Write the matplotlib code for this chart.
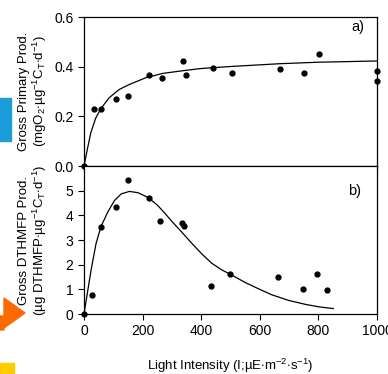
import numpy as np
import matplotlib
matplotlib.use("Agg")
import matplotlib.pyplot as plt
from matplotlib.patches import Rectangle, Polygon

plt.rcParams['font.family'] = ['Liberation Sans', 'DejaVu Sans']
plt.rcParams['mathtext.fontset'] = 'custom'
plt.rcParams['mathtext.rm'] = 'Liberation Sans'
plt.rcParams['mathtext.it'] = 'Liberation Sans'

# panel a) gross primary production
gpp_light = [0, 34, 59, 109, 149, 222, 265, 338, 347, 440, 504, 670, 752, 803, 1000, 1000]
gpp_vals = [0.0, 0.23, 0.23, 0.27, 0.28, 0.365, 0.356, 0.424, 0.365, 0.395, 0.375, 0.392, 0.373, 0.451, 0.381, 0.342]
gpp_fit_x = [0, 11, 23, 40, 57, 86, 120, 154, 212, 269, 326, 394, 440, 504, 669, 800, 1000]
gpp_fit_y = [0.0, 0.065, 0.133, 0.193, 0.23, 0.275, 0.308, 0.328, 0.356, 0.373, 0.382, 0.392, 0.396, 0.401, 0.412, 0.418, 0.423]

# panel b) gross DTHMFP production
dth_light = [0, 29, 58, 110, 150, 222, 261, 336, 343, 433, 498, 663, 748, 797, 830]
dth_vals = [0.0, 0.79, 3.53, 4.33, 5.44, 4.7, 3.79, 3.68, 3.56, 1.13, 1.64, 1.5, 1.0, 1.62, 0.97]
dth_fit_x = [0, 24, 41, 58, 81, 104, 127, 155, 184, 218, 250, 275, 298, 333, 367, 401, 436,
             470, 498, 550, 596, 641, 699, 756, 802, 851]
dth_fit_y = [0.0, 1.77, 2.85, 3.55, 4.13, 4.6, 4.87, 4.97, 4.92, 4.73, 4.42, 4.1, 3.78, 3.33,
             2.88, 2.45, 2.06, 1.79, 1.62, 1.28, 1.02, 0.78, 0.55, 0.39, 0.29, 0.22]

fig = plt.figure(figsize=(3.88, 3.74), dpi=100)
ax1 = fig.add_axes([0.2165, 0.5561, 0.755, 0.3984])
ax2 = fig.add_axes([0.2165, 0.1604, 0.755, 0.3957])

for ax in (ax1, ax2):
    ax.set_xlim(0, 1000)
    ax.set_xticks([0, 200, 400, 600, 800, 1000])
    ax.tick_params(direction='out', length=4, width=0.8, labelsize=10, top=False, right=False)
    for s in ax.spines.values():
        s.set_linewidth(0.9)

ax1.plot(gpp_fit_x, gpp_fit_y, color='black', lw=0.9)
ax1.plot(gpp_light, gpp_vals, 'o', color='black', ms=3.5, clip_on=False)
ax1.set_ylim(0, 0.6)
ax1.set_yticks([0.0, 0.2, 0.4, 0.6])
ax1.set_yticklabels(['0.0', '0.2', '0.4', '0.6'])
ax1.tick_params(axis='x', labelbottom=False)
ax1.text(0.956, 0.935, 'a)', transform=ax1.transAxes, ha='right', va='center', fontsize=10.5)
ax1.set_ylabel('Gross Primary Prod.\n(mgO$_2$$\\cdot$µg$^{-1}$C$_T$$\\cdot$d$^{-1}$)',
               fontsize=9.5, labelpad=4, linespacing=1.05)

ax2.plot(dth_fit_x, dth_fit_y, color='black', lw=0.9)
ax2.plot(dth_light, dth_vals, 'o', color='black', ms=3.5, clip_on=False)
ax2.set_ylim(0, 6)
ax2.set_yticks([0, 1, 2, 3, 4, 5])
ax2.text(0.947, 0.833, 'b)', transform=ax2.transAxes, ha='right', va='center', fontsize=10.5)
ax2.set_ylabel('Gross DTHMFP Prod.\n(µg DTHMFP$\\cdot$µg$^{-1}$C$_T$$\\cdot$d$^{-1}$)',
               fontsize=9.5, labelpad=12, linespacing=1.05)
ax2.set_xlabel('Light Intensity (I;µE$\\cdot$m$^{-2}$$\\cdot$s$^{-1}$)', fontsize=9.5, labelpad=13)

# screenshot marks along the left edge
fig.patches.append(Rectangle((0, 1 - 141 / 374), 11 / 388, 43 / 374, transform=fig.transFigure,
                             color='#1a9cd8', zorder=0))
arrow = [(0, 316), (4, 316), (4, 298), (25, 313), (4, 328), (4, 330), (0, 330)]
fig.patches.append(Polygon([(x / 388, 1 - y / 374) for x, y in arrow], closed=True,
                           transform=fig.transFigure, color='#ff6a00', zorder=0))
fig.patches.append(Rectangle((0, 0), 14 / 388, 11 / 374, transform=fig.transFigure,
                             color='#ffcc00', zorder=0))

fig.savefig('out.png', dpi=100)
